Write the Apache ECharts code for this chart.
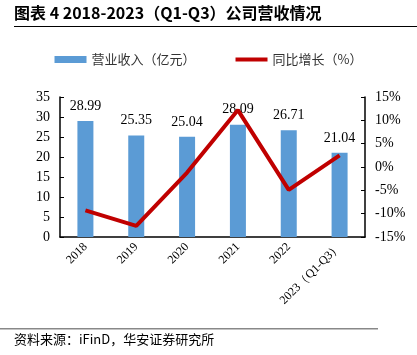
<!DOCTYPE html>
<html><head><meta charset="utf-8">
<script src="https://cdn.jsdelivr.net/npm/echarts@6/dist/echarts.min.js"></script>
<style>html,body{margin:0;padding:0;background:#fff}#c{width:417px;height:355px}</style>
</head><body><div id="c"></div>
<script>
const categories = ['2018','2019','2020','2021','2022','2023（Q1-Q3）'];
const revenue = [28.99, 25.35, 25.04, 28.09, 26.71, 21.04];
const growth = [-9.3, -12.6, -1.2, 12.2, -4.9, 2.5];
const leftTicks = {min: 0, max: 35, interval: 5};
const rightTicks = {min: -15, max: 15, interval: 5};

const chart = echarts.init(document.getElementById('c'));
const serif = '"Liberation Serif", "Times New Roman", serif';
chart.setOption({
  animation: false,
  grid: {left: 60, right: 52, top: 97, bottom: 118},
  legend: {
    top: 48, left: 'center',
    itemGap: 40, itemWidth: 32, itemHeight: 7,
    textStyle: {fontFamily: '"Noto Sans CJK SC"', fontSize: 13, color: '#333'},
    data: [
      {name: '营业收入（亿元）', icon: 'rect'},
      {name: '同比增长（%）', icon: 'path://M0,0 L32,0 L32,4 L0,4 Z', itemStyle: {color: '#C00000'}}
    ]
  },
  xAxis: {
    type: 'category', data: categories,
    axisLine: {lineStyle: {color: '#000', width: 1.5}},
    axisTick: {inside: true, length: 5, lineStyle: {color: '#000'}},
    axisLabel: {rotate: 45, fontFamily: serif, fontSize: 12, color: '#000', interval: 0, margin: 8}
  },
  yAxis: [{
    type: 'value', min: leftTicks.min, max: leftTicks.max, interval: leftTicks.interval,
    splitLine: {show: false},
    axisLine: {show: true, lineStyle: {color: '#000', width: 1.5}},
    axisTick: {show: true, inside: true, length: 4, lineStyle: {color: '#000'}},
    axisLabel: {fontFamily: serif, fontSize: 14, color: '#000', margin: 10}
  }, {
    type: 'value', min: rightTicks.min, max: rightTicks.max, interval: rightTicks.interval,
    splitLine: {show: false},
    axisLine: {show: true, lineStyle: {color: '#000', width: 1.5}},
    axisTick: {show: true, inside: true, length: 4, lineStyle: {color: '#000'}},
    axisLabel: {fontFamily: serif, fontSize: 14, color: '#000', margin: 10, formatter: v => v + '%'}
  }],
  series: [{
    name: '营业收入（亿元）', type: 'bar', data: revenue, barWidth: 16,
    itemStyle: {color: '#5B9BD5'},
    label: {show: true, position: 'top', distance: 8, fontFamily: serif, fontSize: 14, color: '#000', formatter: p => p.value.toFixed(2)}
  }, {
    name: '同比增长（%）', type: 'line', yAxisIndex: 1, data: growth,
    symbol: 'none', lineStyle: {color: '#C00000', width: 4}, itemStyle: {color: '#C00000'}
  }],
  graphic: [
    {type: 'text', left: 14, top: 5, style: {text: '图表 4 2018-2023（Q1-Q3）公司营收情况', font: 'bold 16px "Noto Sans CJK SC"', fill: '#000'}},
    {type: 'rect', shape: {x: 14, y: 26, width: 403, height: 1}, style: {fill: '#000'}},
    {type: 'rect', shape: {x: 0, y: 328, width: 378, height: 1.5}, style: {fill: '#888'}},
    {type: 'text', left: 14, top: 333, style: {text: '资料来源：iFinD，华安证券研究所', font: '13px "Noto Sans CJK SC"', fill: '#000'}}
  ]
});
</script></body></html>
